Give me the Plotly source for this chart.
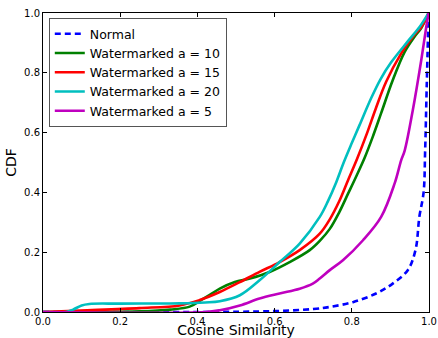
import plotly.graph_objects as go

names = ["Normal", "Watermarked a = 10", "Watermarked a = 15", "Watermarked a = 20", "Watermarked a = 5"]
colors = ["#0000ff", "#008000", "#ff0000", "#00bfbf", "#bf00bf"]

x_normal = [0, 0.40, 0.60, 0.70, 0.743, 0.803, 0.863, 0.906, 0.945, 0.965, 0.975, 0.986, 0.990, 0.994, 0.999]
y_normal = [0, 0.0, 0.003, 0.01, 0.017, 0.033, 0.062, 0.095, 0.14, 0.207, 0.318, 0.40, 0.54, 0.75, 1.0]

x_a10 = [0, 0.25, 0.33, 0.38, 0.406, 0.432, 0.458, 0.497, 0.536, 0.587, 0.639, 0.691, 0.717, 0.743, 0.768, 0.79, 0.812, 0.833, 0.854, 0.876, 0.906, 0.937, 0.962, 0.98, 0.999]
y_a10 = [0, 0.002, 0.008, 0.018, 0.037, 0.057, 0.078, 0.10, 0.112, 0.134, 0.167, 0.207, 0.238, 0.278, 0.335, 0.395, 0.455, 0.515, 0.585, 0.665, 0.775, 0.87, 0.92, 0.95, 1.0]

x_a15 = [0, 0.096, 0.25, 0.354, 0.406, 0.458, 0.51, 0.561, 0.613, 0.665, 0.717, 0.743, 0.768, 0.79, 0.813, 0.84, 0.862, 0.889, 0.928, 0.958, 0.98, 0.999]
y_a15 = [0, 0.005, 0.013, 0.022, 0.04, 0.067, 0.10, 0.134, 0.167, 0.207, 0.262, 0.31, 0.372, 0.44, 0.51, 0.60, 0.68, 0.77, 0.865, 0.921, 0.953, 1.0]

x_a20 = [0, 0.06, 0.078, 0.10, 0.12, 0.20, 0.354, 0.42, 0.458, 0.51, 0.561, 0.613, 0.665, 0.717, 0.738, 0.76, 0.779, 0.80, 0.82, 0.85, 0.875, 0.902, 0.945, 0.975, 0.999]
y_a20 = [0, 0.0, 0.008, 0.022, 0.027, 0.028, 0.029, 0.032, 0.036, 0.056, 0.106, 0.167, 0.229, 0.318, 0.37, 0.435, 0.50, 0.565, 0.625, 0.715, 0.78, 0.835, 0.905, 0.952, 1.0]

x_a5 = [0, 0.42, 0.458, 0.51, 0.561, 0.613, 0.665, 0.699, 0.717, 0.743, 0.777, 0.829, 0.876, 0.911, 0.928, 0.937, 0.958, 0.98, 0.993, 0.999]
y_a5 = [0, 0.0, 0.006, 0.022, 0.045, 0.062, 0.078, 0.095, 0.112, 0.14, 0.173, 0.24, 0.318, 0.43, 0.508, 0.54, 0.675, 0.843, 0.954, 1.0]

tick_vals = [0, 0.2, 0.4, 0.6, 0.8, 1.0]
tick_text = ["0.0", "0.2", "0.4", "0.6", "0.8", "1.0"]

series = [(x_normal, y_normal), (x_a10, y_a10), (x_a15, y_a15), (x_a20, y_a20), (x_a5, y_a5)]

fig = go.Figure()
for i, ((xs, ys), name, col) in enumerate(zip(series, names, colors)):
    fig.add_trace(go.Scatter(
        x=xs, y=ys, mode="lines", name=name,
        line=dict(color=col, width=2.6, shape="spline", smoothing=1.0,
                  dash="6px,4px" if i == 0 else "solid"),
    ))

axis_common = dict(
    range=[0, 1], tickvals=tick_vals, ticktext=tick_text,
    ticks="inside", ticklen=4, tickcolor="black", tickwidth=1,
    showline=True, linecolor="black", linewidth=1, mirror="ticks",
    showgrid=False, zeroline=False, automargin=False,
    tickfont=dict(family="DejaVu Sans", size=10, color="black"),
)

fig.update_layout(
    width=438, height=338,
    margin=dict(l=43, r=9, t=13, b=26, autoexpand=False),
    paper_bgcolor="white", plot_bgcolor="white",
    font=dict(family="DejaVu Sans", color="black"),
    xaxis=dict(**axis_common, title=dict(text="Cosine Similarity", font=dict(size=14), standoff=2)),
    yaxis=dict(**axis_common, title=dict(text="CDF", font=dict(size=14), standoff=4)),
    legend=dict(x=0.015, y=0.983, xanchor="left", yanchor="top",
                bgcolor="white", bordercolor="#555555", borderwidth=1,
                font=dict(family="DejaVu Sans", size=12.5, color="black"),
                tracegroupgap=0, itemwidth=30),
    showlegend=True,
)

fig.write_html("out.html", config={"displayModeBar": False},
               post_script="document.body.style.margin='0';document.body.style.overflow='hidden';")
